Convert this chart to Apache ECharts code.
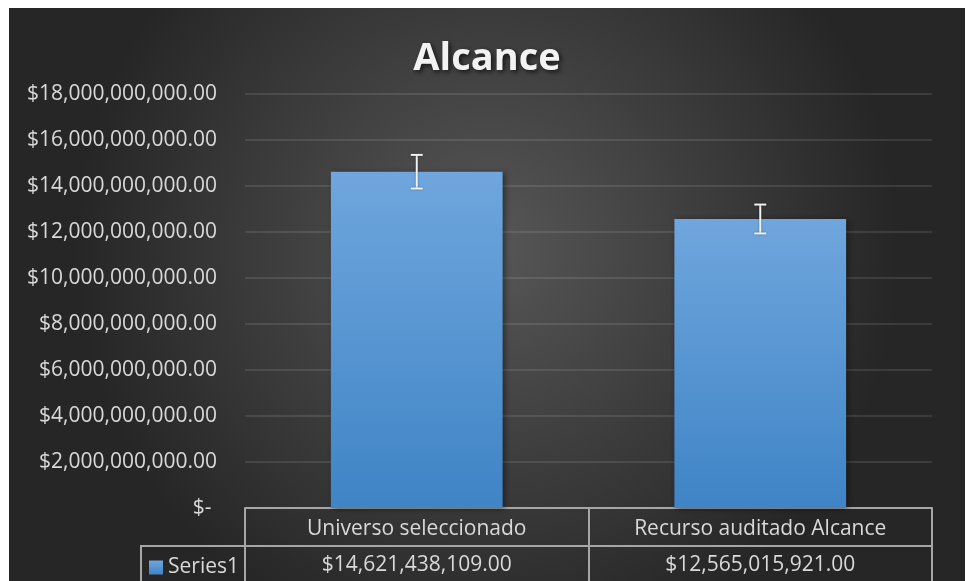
<!DOCTYPE html>
<html>
<head>
<meta charset="utf-8">
<script src="https://cdn.jsdelivr.net/npm/echarts@6/dist/echarts.min.js"></script>
<style>
html,body{margin:0;padding:0;background:#ffffff;width:966px;height:581px;overflow:hidden;}
#chart{position:absolute;left:9px;top:8px;width:956px;height:573px;}
</style>
</head>
<body>
<div id="chart"></div>
<script>
// ---- data ----
const titleText = 'Alcance';
const seriesName = 'Series1';
const categories = ['Universo seleccionado', 'Recurso auditado Alcance'];
const values = [14621438109.00, 12565015921.00];
const errMargins = [731071905, 628250796]; // (approx. ±5%)
const yTicks = [0, 2e9, 4e9, 6e9, 8e9, 10e9, 12e9, 14e9, 16e9, 18e9];

function fmtMoney(v) {
  const parts = v.toFixed(2).split('.');
  parts[0] = parts[0].replace(/\B(?=(\d{3})+(?!\d))/g, ',');
  return '$' + parts[0] + '.' + parts[1];
}

const FONT = '"Open Sans", "Noto Sans", sans-serif';
const TXT = '#d9d9d9';
const LINE = '#a6a6a6';

const chart = echarts.init(document.getElementById('chart'));
const gridL = 236, gridR = 33, gridT = 86, gridB = 73;
const W = 956, H = 573;

const option = {
  backgroundColor: {
    type: 'radial', x: 0.5, y: 0.42, r: 0.72,
    colorStops: [{offset: 0, color: '#575757'}, {offset: 1, color: '#262626'}]
  },
  animation: false,
  title: {
    text: titleText, left: 'center', top: 27,
    textStyle: {
      color: '#f2f2f2', fontFamily: FONT, fontWeight: 'bold', fontSize: 38,
      textShadowColor: 'rgba(0,0,0,0.7)', textShadowBlur: 5, textShadowOffsetX: 2, textShadowOffsetY: 2
    }
  },
  legend: {
    data: [seriesName], left: 140, top: 549, icon: 'rect', itemWidth: 14, itemHeight: 14,
    itemGap: 0, padding: 0,
    textStyle: {color: TXT, fontFamily: FONT, fontSize: 21}
  },
  grid: {left: gridL, right: gridR, top: gridT, bottom: gridB, containLabel: false},
  xAxis: [
    {
      type: 'category', data: categories, position: 'bottom',
      axisLine: {show: true, lineStyle: {color: LINE, width: 2}},
      axisTick: {show: true, inside: false, length: 38, lineStyle: {color: LINE, width: 2}},
      axisLabel: {color: TXT, fontFamily: FONT, fontSize: 21, margin: 11}
    },
    {
      type: 'category', data: categories, position: 'bottom', offset: 38,
      axisLine: {show: true, lineStyle: {color: LINE, width: 2}},
      axisTick: {show: true, inside: false, length: 40, lineStyle: {color: LINE, width: 2}},
      axisLabel: {color: TXT, fontFamily: FONT, fontSize: 21, margin: 9,
        formatter: function (v, i) { return fmtMoney(values[i]); }}
    }
  ],
  yAxis: {
    type: 'value', min: 0, max: 18e9, interval: 2e9,
    axisLine: {show: false}, axisTick: {show: false},
    splitLine: {lineStyle: {color: 'rgba(255,255,255,0.1)', width: 2}},
    axisLabel: {
      color: TXT, fontFamily: FONT, fontSize: 21, margin: 28,
      formatter: function (v) { return v === 0 ? '$- ' : fmtMoney(v); }
    }
  },
  series: [
    {
      name: seriesName, type: 'bar', xAxisIndex: 0, barWidth: '50%',
      data: values,
      itemStyle: {
        color: {type: 'linear', x: 0, y: 0, x2: 0, y2: 1,
          colorStops: [{offset: 0, color: '#6fa6dd'}, {offset: 1, color: '#3f84c6'}]},
        shadowColor: 'rgba(0,0,0,0.45)', shadowBlur: 6, shadowOffsetX: 2, shadowOffsetY: 1
      },
      z: 2
    },
    {
      name: 'err', type: 'custom', xAxisIndex: 0, z: 5,
      data: values.map(function (v, i) { return [i, v - errMargins[i], v + errMargins[i]]; }),
      renderItem: function (params, api) {
        const lo = api.coord([api.value(0), api.value(1)]);
        const hi = api.coord([api.value(0), api.value(2)]);
        const x = lo[0], hw = 6;
        const st = {stroke: '#f2f2f2', lineWidth: 2, shadowColor: 'rgba(0,0,0,0.4)', shadowBlur: 2};
        return {
          type: 'group',
          children: [
            {type: 'line', shape: {x1: x, y1: lo[1], x2: x, y2: hi[1]}, style: st},
            {type: 'line', shape: {x1: x - hw, y1: lo[1], x2: x + hw, y2: lo[1]}, style: st},
            {type: 'line', shape: {x1: x - hw, y1: hi[1], x2: x + hw, y2: hi[1]}, style: st}
          ]
        };
      }
    }
  ],
  graphic: [
    {
      type: 'polyline', silent: true,
      shape: {points: [[132, H + 5], [132, H - gridB + 38], [gridL, H - gridB + 38]]},
      style: {stroke: LINE, lineWidth: 2, fill: null}
    }
  ]
};
chart.setOption(option);
</script>
</body>
</html>
